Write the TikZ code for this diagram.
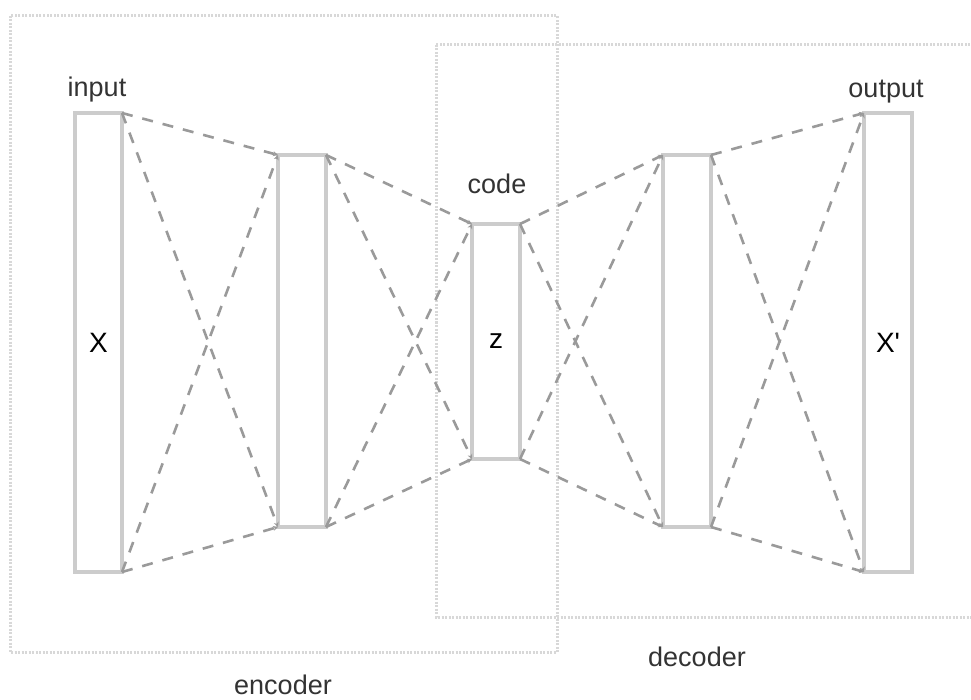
\documentclass[tikz,border=0pt]{standalone}
\usepackage{fontspec}
\setmainfont{Liberation Sans}
\usetikzlibrary{arrows.meta}
\definecolor{rectgray}{HTML}{CCCCCC}
\definecolor{linegray}{HTML}{9A9A9A}
\definecolor{boxgray}{HTML}{D8D8D8}
\begin{document}
\begin{tikzpicture}[x=1pt,y=-1pt,
  layer/.style={draw=rectgray, line width=4pt, rectangle, outer sep=0pt, inner sep=0pt, fill=white,
    font=\fontsize{28}{32}\selectfont},
  conn/.style={draw=linegray, line width=2.6pt, dash pattern=on 11pt off 10pt, -{Stealth[length=5pt,width=5pt]}},
  groupbox/.style={draw=boxgray, line width=3pt, dash pattern=on 2pt off 1.5pt},
  lbl/.style={font=\fontsize{27}{32}\selectfont, text=black!80, inner sep=0pt}]
\useasboundingbox (0,0) rectangle (971,700);
\draw[groupbox] (10,16) rectangle (557,652);
\draw[groupbox] (436,45) rectangle (985,617);
\node[layer, minimum width=47pt, minimum height=459pt] (in) at (98.5,342.5) {X};
\node[layer, minimum width=48pt, minimum height=372pt] (h1) at (302,341) {};
\node[layer, minimum width=48pt, minimum height=235pt] (code) at (496,341.5) {z};
\node[layer, minimum width=48pt, minimum height=372pt] (h2) at (687,341) {};
\node[layer, minimum width=48pt, minimum height=459pt] (out) at (888,342.5) {X\textquotesingle};
\node[lbl] (lin) at (97,90) {input};
\node[lbl] (lcode) at (497,184) {code};
\node[lbl] (lout) at (886,92) {output};
\node[lbl] (lenc) at (283,685) {encoder};
\node[lbl] (ldec) at (697,657) {decoder};
\foreach \a/\b in {in/h1, h1/code, code/h2, h2/out}{
  \draw[conn] (\a.north east) -- (\b.north west);
  \draw[conn] (\a.north east) -- (\b.south west);
  \draw[conn] (\a.south east) -- (\b.north west);
  \draw[conn] (\a.south east) -- (\b.south west);
}
\end{tikzpicture}
\end{document}
